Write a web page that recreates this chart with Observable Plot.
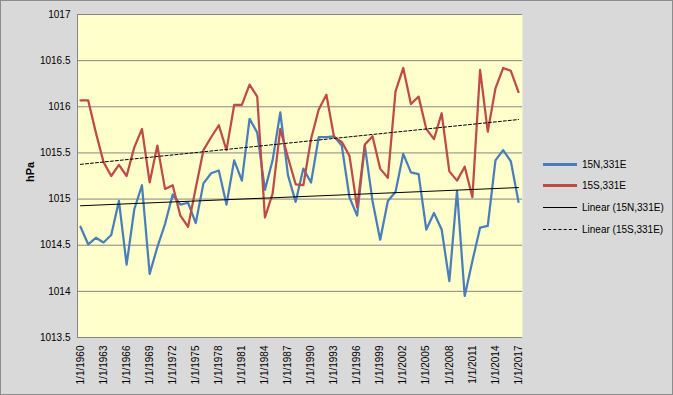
<!DOCTYPE html>
<html><head><meta charset="utf-8">
<script src="https://cdn.jsdelivr.net/npm/d3@7"></script>
<script src="https://cdn.jsdelivr.net/npm/@observablehq/plot@0.6"></script>
<style>
body{margin:0;background:#d9d9d9;}
#wrap{position:relative;width:673px;height:395px;font-family:"Liberation Sans",Arial,sans-serif;}
#wrap svg{display:block;outline:1px solid #8c8c8c;outline-offset:-1px;}
.leg{position:absolute;left:543px;height:14px;display:flex;align-items:center;font-size:10px;color:#000;white-space:nowrap;}
.leg .sw{width:34px;height:0;margin-right:5px;}
</style></head><body><div id="wrap"></div>
<script>
const years = d3.range(1960, 2018);
const n15 = [1014.70,1014.51,1014.58,1014.53,1014.61,1014.98,1014.29,1014.89,1015.15,1014.19,
             1014.48,1014.73,1015.05,1014.94,1014.96,1014.74,1015.17,1015.28,1015.31,1014.94,
             1015.42,1015.20,1015.87,1015.72,1015.10,1015.42,1015.94,1015.26,1014.97,1015.33,
             1015.18,1015.67,1015.67,1015.68,1015.58,1015.02,1014.82,1015.58,1014.98,1014.56,
             1014.98,1015.08,1015.49,1015.29,1015.27,1014.67,1014.85,1014.67,1014.11,1015.09,
             1013.95,1014.33,1014.69,1014.71,1015.42,1015.53,1015.41,1014.97];
const s15 = [1016.07,1016.07,1015.72,1015.40,1015.25,1015.37,1015.25,1015.56,1015.76,1015.18,
             1015.58,1015.11,1015.15,1014.82,1014.70,1015.12,1015.53,1015.67,1015.80,1015.53,
             1016.02,1016.02,1016.24,1016.11,1014.80,1015.06,1015.76,1015.45,1015.16,1015.15,
             1015.65,1015.97,1016.13,1015.67,1015.62,1015.47,1014.91,1015.59,1015.68,1015.33,
             1015.23,1016.17,1016.42,1016.03,1016.11,1015.76,1015.65,1015.93,1015.30,1015.20,
             1015.35,1015.02,1016.40,1015.73,1016.20,1016.42,1016.39,1016.16];
const yTicks = [1013.5,1014,1014.5,1015,1015.5,1016,1016.5,1017];
const xTicks = [1960,1963,1966,1969,1972,1975,1978,1981,1984,1987,1990,1993,1996,1999,2002,2005,2008,2011,2014,2017];
const seriesNames = ["15N,331E","15S,331E","Linear (15N,331E)","Linear (15S,331E)"];
const colors = {n:"#4a7ebb", s:"#be4b48"};

const rows = years.map((y,i)=>({year:y, n:n15[i], s:s15[i]}));

const chart = Plot.plot({
  width:673, height:395,
  marginLeft:77, marginRight:151, marginTop:14, marginBottom:58,
  style:{background:"#d9d9d9", fontFamily:'"Liberation Sans",Arial,sans-serif', fontSize:"10px", color:"#000"},
  x:{domain:[1959.61, 2017.52]},
  y:{domain:[1013.5, 1017]},
  marks:[
    Plot.frame({fill:"#ffffcc", stroke:null}),
    Plot.ruleY(yTicks, {stroke:"#868686", strokeWidth:1}),
    Plot.frame({anchor:"left", stroke:"#868686"}),
    Plot.axisY({ticks:yTicks, tickSize:0, tickPadding:7, tickFormat:d=>String(d), label:null}),
    Plot.axisX({ticks:xTicks, tickSize:0, tickRotate:-90, tickPadding:8, tickFormat:d=>"1/1/"+d, label:null}),
    Plot.line(rows, {x:"year", y:"n", stroke:colors.n, strokeWidth:2.25}),
    Plot.line(rows, {x:"year", y:"s", stroke:colors.s, strokeWidth:2.25}),
    Plot.linearRegressionY(rows, {x:"year", y:"n", stroke:"#000", ci:0, strokeWidth:1}),
    Plot.linearRegressionY(rows, {x:"year", y:"s", stroke:"#000", ci:0, strokeWidth:1, strokeDasharray:"3,2"}),
    Plot.text(["hPa"], {frameAnchor:"left", text:d=>d, rotate:-90, dx:-47, dy:6, fontWeight:"bold", fontSize:11})
  ]
});
const wrap = document.getElementById("wrap");
wrap.appendChild(chart);

const legItems = [
  {name:seriesNames[0], stroke:colors.n, w:3, dash:"solid", top:164},
  {name:seriesNames[1], stroke:colors.s, w:3, dash:"solid", top:185.5},
  {name:seriesNames[2], stroke:"#000", w:1, dash:"solid", top:207.5},
  {name:seriesNames[3], stroke:"#000", w:1, dash:"dashed", top:229}
];
for (const it of legItems) {
  const d = document.createElement("div");
  d.className = "leg";
  d.style.top = (it.top - 7) + "px";
  const sw = document.createElement("span");
  sw.className = "sw";
  sw.style.borderTop = `${it.w}px ${it.dash} ${it.stroke}`;
  d.appendChild(sw);
  const t = document.createElement("span");
  t.textContent = it.name;
  d.appendChild(t);
  wrap.appendChild(d);
}
</script></body></html>
